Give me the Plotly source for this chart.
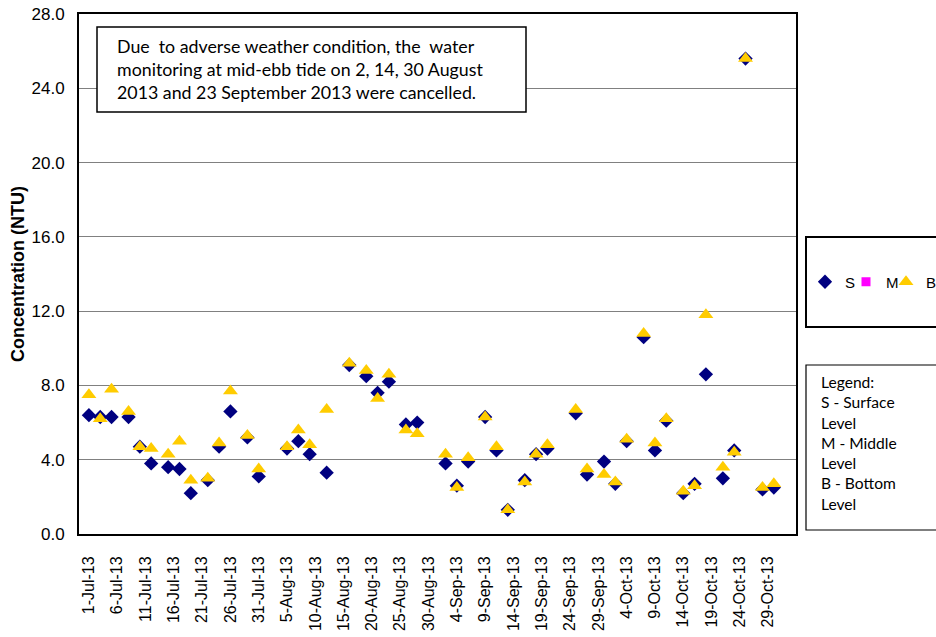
import plotly.graph_objects as go

# sampling dates (2, 14, 30 Aug and 23 Sep cancelled)
dates = [
    "2013-07-01", "2013-07-03", "2013-07-05", "2013-07-08", "2013-07-10", "2013-07-12",
    "2013-07-15", "2013-07-17", "2013-07-19", "2013-07-22", "2013-07-24", "2013-07-26",
    "2013-07-29", "2013-07-31",
    "2013-08-05", "2013-08-07", "2013-08-09", "2013-08-12", "2013-08-16", "2013-08-19",
    "2013-08-21", "2013-08-23", "2013-08-26", "2013-08-28",
    "2013-09-02", "2013-09-04", "2013-09-06", "2013-09-09", "2013-09-11", "2013-09-13",
    "2013-09-16", "2013-09-18", "2013-09-20", "2013-09-25", "2013-09-27", "2013-09-30",
    "2013-10-02", "2013-10-04", "2013-10-07", "2013-10-09", "2013-10-11", "2013-10-14",
    "2013-10-16", "2013-10-18", "2013-10-21", "2013-10-23", "2013-10-25", "2013-10-28",
    "2013-10-30",
]

surface = [
    6.4, 6.3, 6.3, 6.3, 4.7, 3.8, 3.6, 3.5, 2.2, 2.9, 4.7, 6.6, 5.2, 3.1,
    4.6, 5.0, 4.3, 3.3, 9.1, 8.5, 7.6, 8.2, 5.9, 6.0,
    3.8, 2.6, 3.9, 6.3, 4.5, 1.3, 2.9, 4.3, 4.6, 6.5, 3.2, 3.9,
    2.7, 5.0, 10.6, 4.5, 6.1, 2.2, 2.7, 8.6, 3.0, 4.5, 25.6, 2.4, 2.5,
]
middle = [None] * len(dates)
bottom = [
    7.5, 6.2, 7.8, 6.6, 4.7, 4.6, 4.3, 5.0, 2.9, 3.0, 4.9, 7.7, 5.3, 3.5,
    4.7, 5.6, 4.8, 6.7, 9.2, 8.8, 7.3, 8.6, 5.6, 5.4,
    4.3, 2.5, 4.1, 6.3, 4.7, 1.3, 2.8, 4.3, 4.8, 6.7, 3.5, 3.2,
    2.8, 5.1, 10.8, 4.9, 6.2, 2.3, 2.6, 11.8, 3.6, 4.4, 25.6, 2.5, 2.7,
]

y_ticks = [0, 4, 8, 12, 16, 20, 24, 28]

# plot area in pixels
L, R, T, B = 79, 796, 14, 534
W, H = R - L, B - T


def px(x):
    return (x - L) / W


def py(y):
    return (B - y) / H


fig = go.Figure()
fig.add_trace(go.Scatter(x=dates, y=surface, name="S", mode="markers", legend="legend",
                         marker=dict(symbol="diamond", size=11, color="#000080")))
fig.add_trace(go.Scatter(x=dates, y=middle, name="M", mode="markers", legend="legend2",
                         marker=dict(symbol="square", size=9, color="#FF00FF")))
fig.add_trace(go.Scatter(x=dates, y=bottom, name="B", mode="markers", legend="legend3",
                         marker=dict(symbol="triangle-up", size=13, color="#FFCC00")))

note = ("Due  to adverse weather condition, the  water<br>"
        "monitoring at mid-ebb tide on 2, 14, 30 August<br>"
        "2013 and 23 September 2013 were cancelled.")
key = "Legend:<br>S - Surface<br>Level<br>M - Middle<br>Level<br>B - Bottom<br>Level"

leg = dict(xanchor="left", yanchor="middle", y=py(282), font=dict(size=15),
           itemwidth=30, bgcolor="rgba(0,0,0,0)")

fig.update_layout(
    width=936, height=637,
    margin=dict(l=L, r=936 - R, t=T, b=637 - B, autoexpand=False),
    paper_bgcolor="white", plot_bgcolor="white",
    font=dict(family="Liberation Sans", size=17, color="black"),
    showlegend=True,
    legend=dict(leg, x=px(805)),
    legend2=dict(leg, x=px(846)),
    legend3=dict(leg, x=px(886)),
    xaxis=dict(type="date", range=["2013-06-29 06:00", "2013-11-02 22:00"],
               tick0="2013-07-01", dtick=5 * 86400000, tickformat="%-d-%b-%y",
               tickangle=-90, tickfont=dict(size=16), showgrid=False, ticklabelstandoff=14,
               showline=True, linecolor="black", linewidth=2, mirror=True, ticks=""),
    yaxis=dict(range=[0, 28], tickvals=y_ticks, tickformat=".1f", tickfont=dict(size=17),
               ticklabelstandoff=9,
               title=dict(text="<b>Concentration (NTU)</b>", font=dict(size=18), standoff=2),
               showgrid=True, gridcolor="#808080", gridwidth=1,
               showline=True, linecolor="black", linewidth=2, mirror=True,
               zeroline=False, ticks=""),
    shapes=[
        dict(type="rect", xref="paper", yref="paper", x0=px(97), x1=px(526), y0=py(27), y1=py(112),
             line=dict(color="black", width=1.5), fillcolor="white", layer="above"),
        dict(type="rect", xref="paper", yref="paper", x0=px(806), x1=px(945), y0=py(237), y1=py(327),
             line=dict(color="black", width=2), fillcolor="rgba(0,0,0,0)"),
        dict(type="rect", xref="paper", yref="paper", x0=px(806), x1=px(945), y0=py(365), y1=py(530),
             line=dict(color="black", width=1.2), fillcolor="rgba(0,0,0,0)"),
    ],
    annotations=[
        dict(text=note, xref="paper", yref="paper", x=px(115), y=py(33), xanchor="left",
             yanchor="top", align="left", showarrow=False,
             font=dict(family="Lato", size=17.8)),
        dict(text=key, xref="paper", yref="paper", x=px(819), y=py(371), xanchor="left",
             yanchor="top", align="left", showarrow=False,
             font=dict(family="Lato", size=15.6)),
    ],
)

# drop the default page margin so the figure sits at the window's top-left corner
fig.write_html("out.html", config={"displayModeBar": False},
               post_script="document.body.style.margin = '0px';")
